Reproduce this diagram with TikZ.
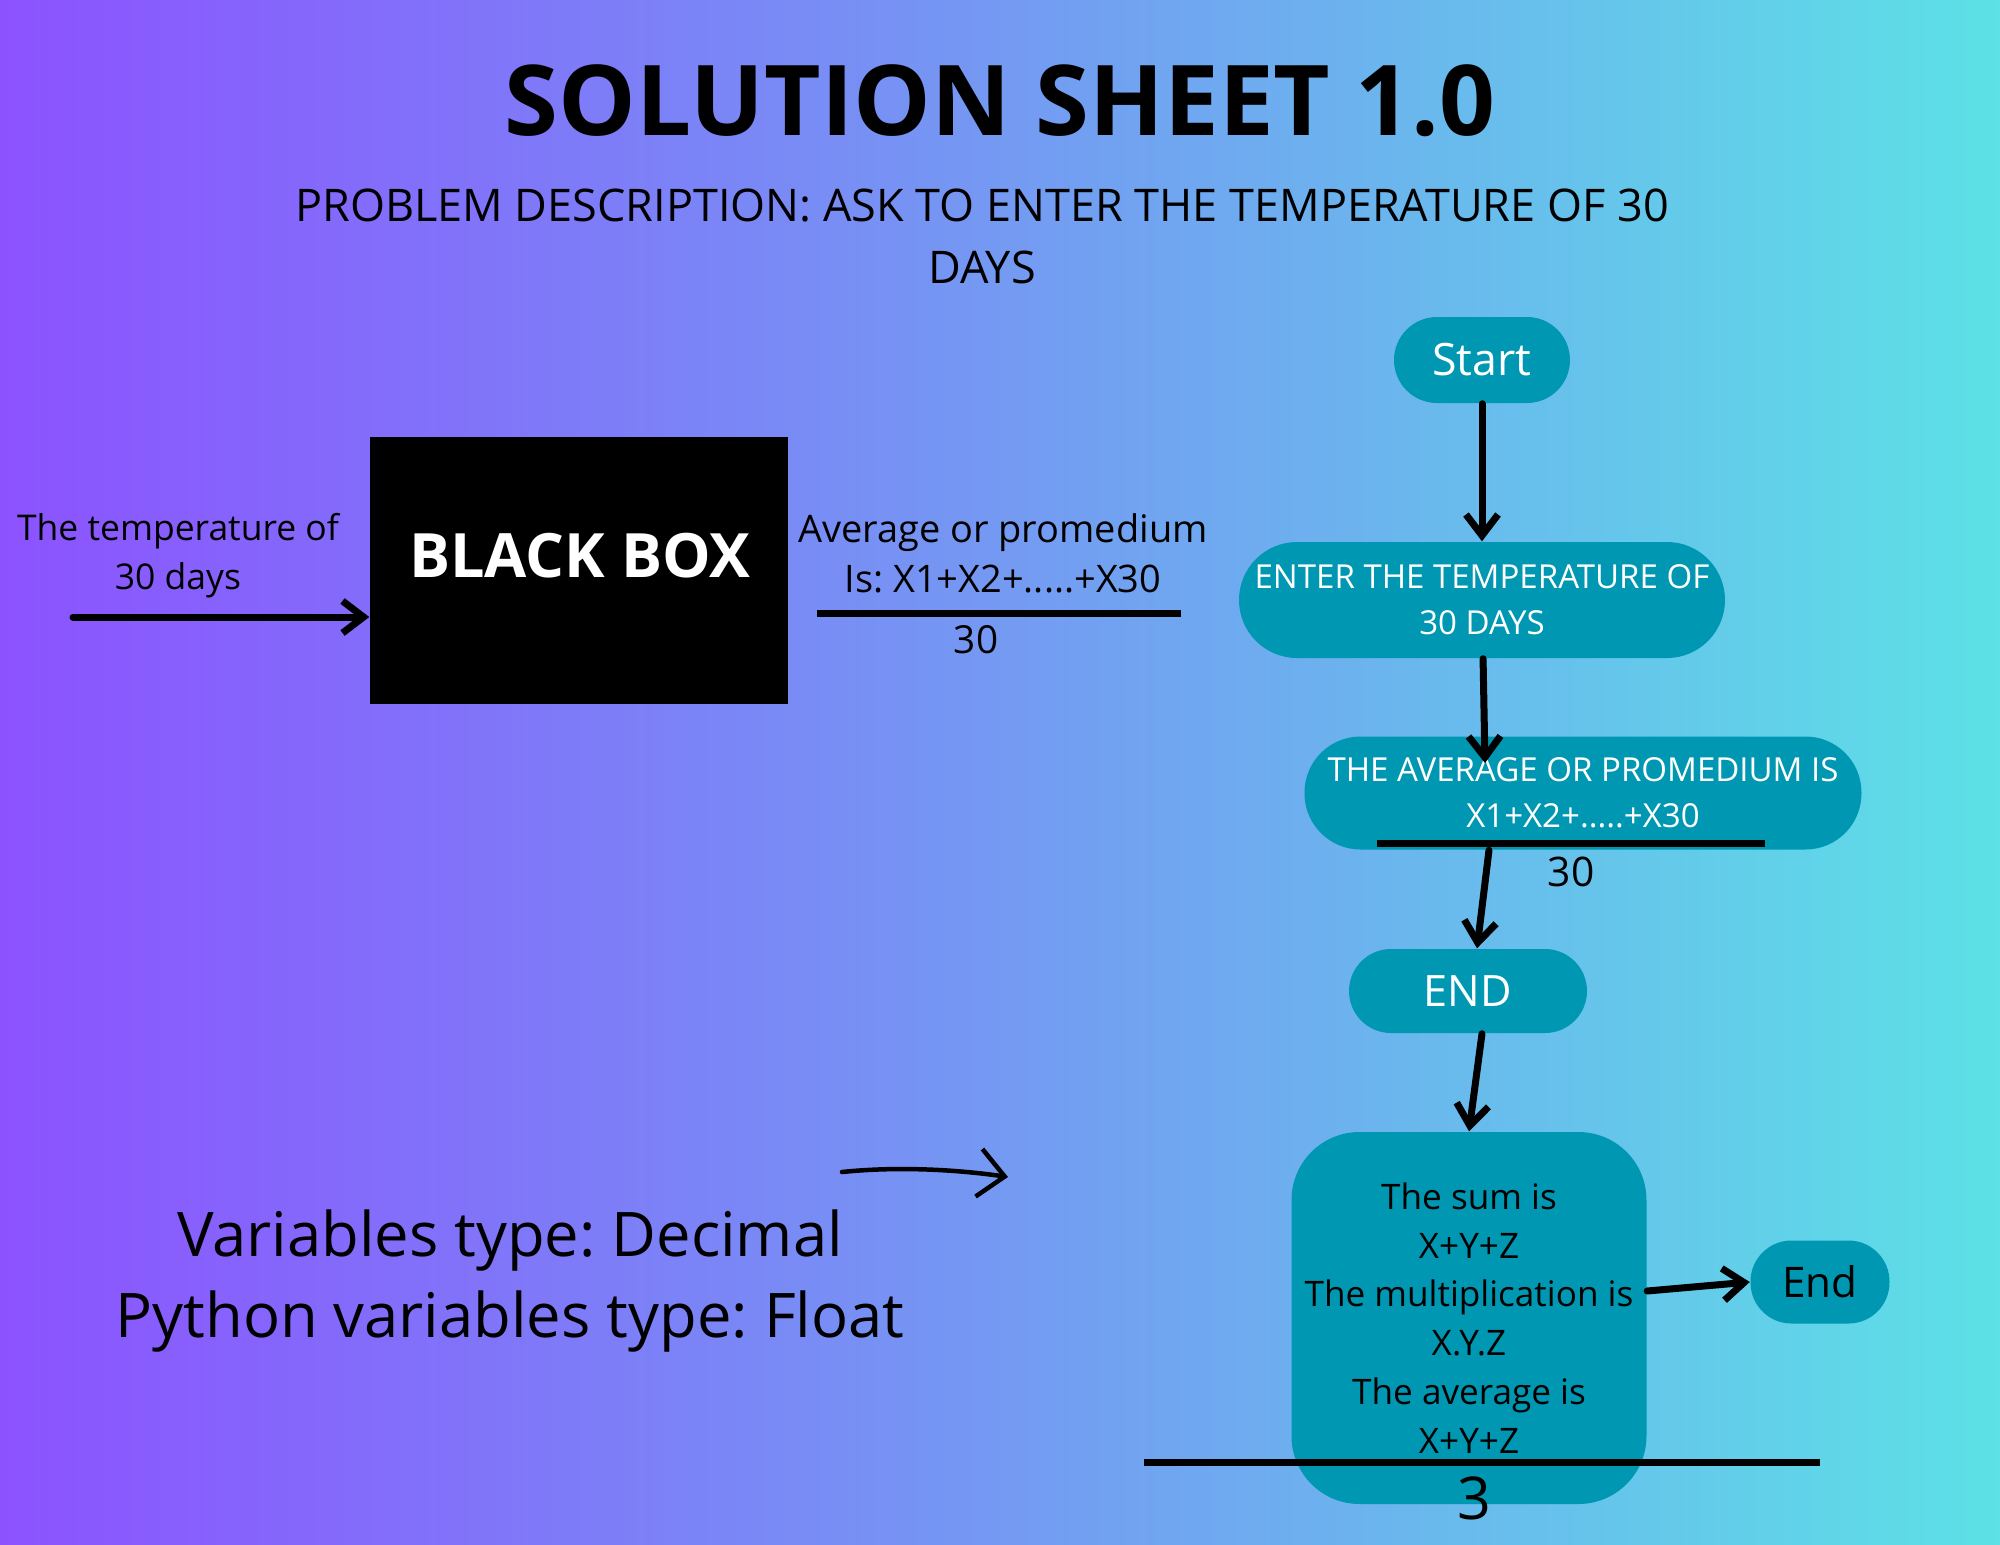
\documentclass[tikz,border=0pt]{standalone}
\usepackage{fontspec}
\setmainfont{Open Sans}
\frenchspacing
\usetikzlibrary{arrows.meta}
\definecolor{bgleft}{HTML}{8C52FF}
\definecolor{bgright}{HTML}{5CE1E6}
\definecolor{flowteal}{HTML}{0097B2}
\tikzset{
  flowbox/.style={fill=flowteal, text=white, align=center, inner sep=0pt},
  flowarrow/.style={line width=0.7mm, line cap=round, -{Straight Barb[length=2.1mm,width=3.2mm]}},
  fracbar/.style={line width=0.7mm},
}
\begin{document}
\begin{tikzpicture}[x=0.1mm, y=-0.1mm]

  % 背景渐变
  \useasboundingbox (0,0) rectangle (2000,1545);
  \shade[left color=bgleft, right color=bgright] (0,0) rectangle (2000,1545);

  % 标题和问题描述
  \node[anchor=base, font=\bfseries\fontsize{27.8}{34}\selectfont] (title) at (1000,135) {SOLUTION SHEET 1.0};
  \node[anchor=base, align=center, font=\fontsize{12.8}{17.6}\selectfont] (desc) at (982,283) {PROBLEM DESCRIPTION: ASK TO ENTER THE TEMPERATURE OF 30\\DAYS};

  % 黑箱
  \node[fill=black, minimum width=41.8mm, minimum height=26.7mm, inner sep=0pt] (bbox) at (579,570) {};
  \node[anchor=base, text=white, font=\bfseries\fontsize{17.4}{20}\selectfont] (bbtext) at (580,577) {BLACK BOX};

  % 输入
  \node[anchor=base, align=center, font=\fontsize{10.1}{13.7}\selectfont] (intext) at (178,589) {The temperature of\\30 days};
  \coordinate (inpt) at (73,617);
  \draw[flowarrow] (inpt) -- (bbox.west |- inpt);

  % 输出 (分式)
  \node[anchor=base, align=center, font=\fontsize{10.8}{14}\selectfont] (outtext) at (1003,592) {Average or promedium\\Is: X1+X2+.....+X30};
  \draw[fracbar] (817,613) -- (1181,613);
  \node[anchor=base, font=\fontsize{11}{13}\selectfont] (outden) at (976,653) {30};

  % 流程图
  \node[flowbox, minimum width=17.6mm, minimum height=8.6mm, rounded corners=4.3mm, font=\fontsize{12.7}{15}\selectfont] (start) at (1482,360) {Start};
  \node[flowbox, minimum width=48.6mm, minimum height=11.6mm, rounded corners=5.8mm, font=\fontsize{9.4}{13.1}\selectfont] (enter) at (1482,600) {ENTER THE TEMPERATURE OF\\30 DAYS};
  \node[flowbox, minimum width=55.7mm, minimum height=11.3mm, rounded corners=5.6mm, font=\fontsize{9.4}{13.1}\selectfont] (avg) at (1583,793) {THE AVERAGE OR PROMEDIUM IS\\X1+X2+.....+X30};
  \draw[fracbar] (1377,843) -- (1765,843);
  \node[anchor=base, font=\fontsize{11.6}{14}\selectfont] (avgden) at (1571,886) {30};
  \node[flowbox, minimum width=23.8mm, minimum height=8.4mm, rounded corners=4.2mm, font=\fontsize{12.3}{15}\selectfont] (endA) at (1468,991) {END};
  \node[flowbox, text=black, minimum width=35.5mm, minimum height=37.2mm, rounded corners=6.8mm, font=\fontsize{10}{13.9}\selectfont] (sum) at (1469,1318) {The sum is\\X+Y+Z\\The multiplication is\\X.Y.Z\\The average is\\X+Y+Z};
  \draw[fracbar] (1144,1462) -- (1820,1462);
  \node[anchor=base, font=\fontsize{16.8}{20}\selectfont] (sumden) at (1474,1519) {3};
  \node[flowbox, text=black, minimum width=13.9mm, minimum height=8.3mm, rounded corners=4.1mm, font=\fontsize{12}{15}\selectfont] (endB) at (1820,1282) {End};

  % 箭头
  \coordinate (avgin) at (1485,763);
  \draw[flowarrow] (start) -- (enter);
  \draw[flowarrow] (enter) -- (avgin);
  \draw[flowarrow] (avg.south -| 1489,0) -- (endA.north -| 1477,0);
  \draw[flowarrow] (endA.south -| 1482,0) -- (sum.north);
  \draw[flowarrow] (sum.east |- 0,1291) -- (endB.west |- 0,1282);

  % 手绘箭头
  \coordinate (hstart) at (842,1172);
  \coordinate (hend) at (1008,1177);
  \draw[line width=0.45mm, line cap=round, -{Straight Barb[length=2.6mm,width=4.8mm]}] (hstart) .. controls (900,1166) and (960,1170) .. (hend);

  % 变量类型
  \node[anchor=base, align=center, font=\fontsize{17.5}{23}\selectfont] (vars) at (510,1337) {Variables type: Decimal\\Python variables type: Float};

\end{tikzpicture}
\end{document}
